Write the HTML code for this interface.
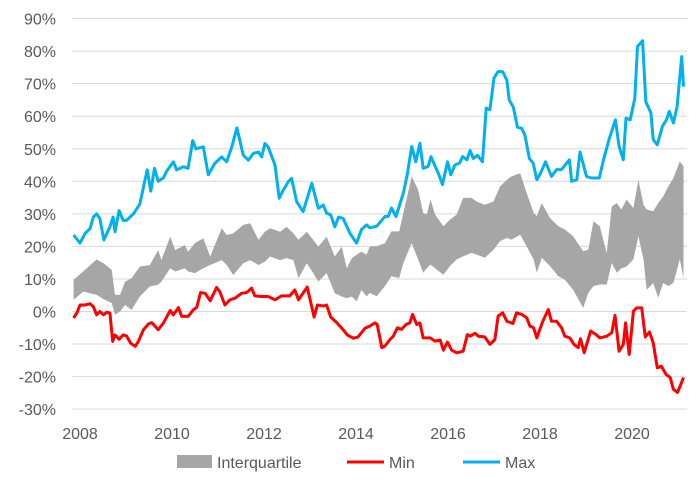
<!DOCTYPE html>
<html><head><meta charset="utf-8"><style>
body{margin:0;background:#fff;}
svg{display:block;font-family:"Liberation Sans",sans-serif;}
</style></head><body>
<svg id="chart" width="700" height="484"></svg>
<script>
const yTicks=[-30,-20,-10,0,10,20,30,40,50,60,70,80,90];
const xTicks=[2008,2010,2012,2014,2016,2018,2020];
const maxYears=[2007.86,2008.0,2008.11,2008.22,2008.29,2008.36,2008.43,2008.52,2008.65,2008.72,2008.76,2008.85,2008.94,2009.01,2009.16,2009.30,2009.46,2009.54,2009.62,2009.70,2009.81,2009.88,2010.03,2010.10,2010.25,2010.35,2010.45,2010.52,2010.68,2010.79,2010.93,2011.08,2011.19,2011.30,2011.41,2011.55,2011.66,2011.77,2011.88,2011.95,2012.02,2012.09,2012.24,2012.33,2012.42,2012.53,2012.60,2012.71,2012.85,2013.04,2013.18,2013.29,2013.36,2013.45,2013.54,2013.62,2013.72,2013.87,2014.01,2014.12,2014.23,2014.30,2014.45,2014.63,2014.70,2014.77,2014.87,2015.03,2015.12,2015.21,2015.30,2015.39,2015.46,2015.57,2015.63,2015.72,2015.79,2015.88,2015.99,2016.06,2016.15,2016.25,2016.32,2016.41,2016.48,2016.55,2016.64,2016.75,2016.83,2016.91,2017.00,2017.09,2017.19,2017.28,2017.33,2017.42,2017.51,2017.60,2017.67,2017.77,2017.85,2017.93,2018.01,2018.12,2018.25,2018.36,2018.47,2018.58,2018.64,2018.69,2018.80,2018.87,2019.01,2019.12,2019.29,2019.38,2019.50,2019.64,2019.72,2019.81,2019.87,2019.96,2020.06,2020.12,2020.23,2020.30,2020.41,2020.46,2020.55,2020.66,2020.75,2020.81,2020.90,2020.98,2021.08,2021.12];
const maxValues=[23.5,21,24,25.5,29,30,28.6,22,26,29,24.5,31,28,28,30,33,43.5,37,44,40,41,43,46,43.5,44.5,44,52.5,50,50.6,42,45.5,47.5,46,50.6,56.4,48,46.5,48.6,49,47.5,51.6,50.6,45,34.8,37.3,39.9,40.9,33.7,30.7,39.4,31.7,32.7,30.2,29.7,26,29,28.6,24,21,25.2,26.6,25.7,26.2,29.2,29.2,31.8,29.2,36.4,42.5,50.7,46,51.7,44,44.6,47.6,44.6,42.5,39,46,42,45,45.6,47.6,46.6,49.5,47,48,46,62.5,62,71.7,73.7,73.7,71,65,62.8,56.6,56.3,54.3,47,45.6,40.5,42.5,46,41.5,43.6,43.6,45.6,46.6,40,40.5,49,41.5,41,41,46.6,52.8,58.9,50.7,46.6,59.4,58.9,65.5,81.4,83.2,64.5,61,52.8,51.2,56.9,58.9,61.5,57.9,63,78.3,69.1];
const minYears=[2007.86,2007.93,2008.0,2008.11,2008.22,2008.29,2008.36,2008.43,2008.51,2008.58,2008.65,2008.71,2008.76,2008.85,2008.94,2009.01,2009.10,2009.20,2009.27,2009.38,2009.49,2009.56,2009.70,2009.81,2009.96,2010.03,2010.14,2010.21,2010.35,2010.46,2010.54,2010.62,2010.72,2010.83,2010.97,2011.04,2011.15,2011.26,2011.37,2011.51,2011.62,2011.73,2011.80,2011.95,2012.09,2012.24,2012.38,2012.56,2012.67,2012.75,2012.94,2013.09,2013.16,2013.29,2013.36,2013.45,2013.58,2013.72,2013.81,2013.94,2014.04,2014.20,2014.30,2014.41,2014.46,2014.56,2014.63,2014.74,2014.81,2014.90,2014.99,2015.09,2015.17,2015.23,2015.32,2015.39,2015.46,2015.61,2015.72,2015.83,2015.90,2015.99,2016.08,2016.19,2016.33,2016.42,2016.48,2016.59,2016.66,2016.80,2016.91,2017.02,2017.09,2017.19,2017.28,2017.41,2017.49,2017.60,2017.71,2017.78,2017.86,2017.93,2018.06,2018.18,2018.25,2018.36,2018.47,2018.54,2018.65,2018.74,2018.83,2018.88,2018.96,2019.10,2019.22,2019.30,2019.45,2019.56,2019.63,2019.72,2019.81,2019.86,2019.94,2020.03,2020.10,2020.21,2020.29,2020.38,2020.46,2020.55,2020.64,2020.74,2020.83,2020.90,2020.99,2021.06,2021.12];
const minValues=[-2,-0.5,2,2,2.4,1.5,-1,0,-1,-0.2,-0.5,-9.2,-7.2,-8.5,-7.2,-7.5,-9.7,-10.7,-9.2,-5.6,-3.8,-3.4,-5.6,-3.6,0.3,-1,1.2,-1.5,-1.5,0.5,1.3,5.8,5.6,3.3,7.4,6.1,2,3.6,4.1,5.6,5.8,7.2,4.8,4.6,4.6,3.6,4.8,4.8,6.6,3.6,7.5,-1.7,2,1.7,2,-1.7,-3.4,-5.6,-7.2,-8.2,-7.9,-5.1,-4.5,-3.5,-4,-11.1,-10.6,-8.6,-7.6,-5,-5.5,-4,-3.5,-0.9,-4,-3.5,-8.1,-8.1,-9.1,-8.8,-11.9,-9.4,-11.9,-12.7,-12.2,-7.1,-7.6,-6.7,-7.6,-7.8,-10.1,-8.6,-1.4,-0.4,-3,-3.7,-0.4,-0.9,-1.9,-4.5,-5,-8.1,-3,0.6,-3,-3,-5,-7.6,-8.1,-10.1,-11.1,-8.4,-12.7,-6,-7.1,-8.1,-7.6,-6.5,-1.2,-12.2,-10.1,-3.5,-13.2,0.1,1.1,1.1,-7.8,-6.3,-9.6,-17.3,-16.8,-19.3,-20.3,-23.9,-24.9,-22.4,-20.3];
const iqYears=[2007.86,2008.07,2008.36,2008.51,2008.69,2008.76,2008.87,2008.98,2009.12,2009.30,2009.52,2009.70,2009.77,2009.96,2010.07,2010.28,2010.35,2010.50,2010.68,2010.83,2011.08,2011.19,2011.33,2011.55,2011.70,2011.88,2012.02,2012.13,2012.35,2012.49,2012.64,2012.75,2012.93,2013.07,2013.18,2013.36,2013.54,2013.69,2013.80,2013.91,2014.01,2014.12,2014.23,2014.30,2014.45,2014.63,2014.77,2014.94,2015.03,2015.21,2015.35,2015.46,2015.54,2015.62,2015.72,2015.90,2016.04,2016.19,2016.33,2016.51,2016.62,2016.80,2016.99,2017.13,2017.28,2017.38,2017.57,2017.71,2017.86,2017.93,2018.04,2018.22,2018.40,2018.54,2018.72,2018.94,2019.05,2019.16,2019.30,2019.45,2019.56,2019.67,2019.77,2019.88,2020.03,2020.14,2020.25,2020.32,2020.46,2020.57,2020.68,2020.79,2020.90,2021.04,2021.12];
const iqUpper=[9.7,12.3,16,14.8,12.8,5.1,5.1,9.2,10.2,13.8,14.3,18.9,15.8,23,18.9,20.4,18.4,21,22.5,16.9,25.6,23.5,24,26.6,27.1,22,24.5,25.6,24.5,26,24,22,24.5,22,19.9,23,16.9,19.9,13.3,16.4,17.4,18.4,17.4,20,20,21,24.6,24.6,30.3,41.5,37.4,30.3,29.8,34.4,29.8,26.2,28.2,29.8,34.9,34.9,33.8,32.8,33.8,38.4,40.5,41.5,42.5,36.4,30.3,29.3,33.3,28.7,26.2,25.2,23.1,18.5,19,27.7,26.2,18,32.3,33.3,31.3,34.4,31.8,40.5,32.8,31.3,30.8,33.3,35.4,38.4,41,46.1,44.6];
const iqLower=[3.6,6.1,5.1,3.8,2.6,-1,0,2,0.5,4.6,7.7,8.2,9.2,13.3,12.3,13.3,12.3,11.8,13.3,14.3,15.8,14.3,11.2,14.8,15.8,14.3,15.3,16.9,15.8,16.4,15.8,10.2,14.8,11.8,9.2,11.8,5.6,4.6,4.1,4.6,3.1,6.6,4.6,5.7,4.7,7.8,10.8,10.3,14.9,21,16,11.9,13.3,14.4,13.3,11.3,13.9,16,17,18,17.5,16.5,19,21.6,22.6,22.1,23.6,20,16,11.9,16.5,13.9,10.8,9.8,6.7,1.1,5.7,7.8,8.3,8.3,14.9,11.9,13.3,13.8,16,23.1,16,6.7,8.8,4.2,8.8,7.8,8.8,16,10.3];

const NS='http://www.w3.org/2000/svg';
const svg=document.getElementById('chart');
function mk(tag,attrs,parent){const e=document.createElementNS(NS,tag);for(const k in attrs)e.setAttribute(k,attrs[k]);(parent||svg).appendChild(e);return e;}
const X0=72,X1=687;
function xs(yr){return 80+(yr-2008)*46;}
function ys(v){return 311.5-v*3.255;}

const grid=mk('g',{});


yTicks.forEach(t=>{
  const l=mk('line',{x1:X0,x2:X1,y1:ys(t),y2:ys(t),stroke:'#d9d9d9','stroke-width':1},grid);
  
  
  const tx=mk('text',{x:56,y:ys(t)+6,'text-anchor':'end','font-size':16,fill:'#595959'});
  tx.textContent=t+'%';
  
  
});
xTicks.forEach(t=>{
  const tx=mk('text',{x:xs(t),y:439,'text-anchor':'middle','font-size':16,fill:'#595959'});
  tx.textContent=t;
  
  
});

// interquartile band
let d='';
iqYears.forEach((y,i)=>{d+=(i?'L':'M')+xs(y).toFixed(1)+','+ys(iqUpper[i]).toFixed(1);});
for(let i=iqYears.length-1;i>=0;i--){d+='L'+xs(iqYears[i]).toFixed(1)+','+ys(iqLower[i]).toFixed(1);}
const band=mk('path',{d:d+'Z',fill:'#a6a6a6'});



function line(years,vals,color,name){
  const p=years.map((y,i)=>(i?'L':'M')+xs(y).toFixed(1)+','+ys(vals[i]).toFixed(1)).join('');
  const e=mk('path',{d:p,fill:'none',stroke:color,'stroke-width':3,'stroke-linejoin':'round'});
  
  
}
line(minYears,minValues,'#ff0000','min-line');
line(maxYears,maxValues,'#00b0f0','max-line');

const lg=mk('g',{});


const r=mk('rect',{x:177,y:455,width:35,height:13,fill:'#a6a6a6'},lg);


const t1=mk('text',{x:217,y:468,'font-size':16,fill:'#595959'},lg);t1.textContent='Interquartile';


const l1=mk('line',{x1:347,x2:384,y1:462,y2:462,stroke:'#ff0000','stroke-width':3},lg);


const t2=mk('text',{x:389,y:468,'font-size':16,fill:'#595959'},lg);t2.textContent='Min';


const l2=mk('line',{x1:463,x2:500,y1:462,y2:462,stroke:'#00b0f0','stroke-width':3},lg);


const t3=mk('text',{x:505,y:468,'font-size':16,fill:'#595959'},lg);t3.textContent='Max';


</script>
</body></html>
